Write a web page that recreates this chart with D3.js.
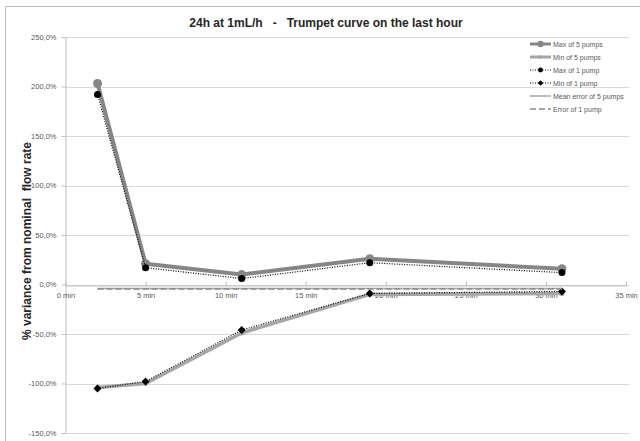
<!DOCTYPE html>
<html lang="en">
    <head>
        <meta charset="utf-8" />
        <title>Trumpet curve</title>
        <script type="text/javascript" src="https://cdnjs.cloudflare.com/ajax/libs/d3/7.8.5/d3.min.js"></script>
        <style type="text/css">
            body { margin: 0; background: white; }
            text { font-family: "Liberation Sans", Arial, sans-serif; }
        </style>
    </head>
    <body>
        <script type="text/javascript">
            var minutes = [2, 5, 11, 19, 31];
            var max5 = [203, 21, 10, 26, 16];
            var min5 = [-104, -100, -49, -10, -9];
            var max1 = [192, 17, 6, 22, 12];
            var min1 = [-105, -98, -46, -9, -7];
            var meanErr5 = [-4, -4, -4, -4, -4];
            var err1 = [-4.5, -4.5, -4.5, -4.5, -4.5];

            var xTicks = [0, 5, 10, 15, 20, 25, 30, 35];
            var yTicks = [250, 200, 150, 100, 50, 0, -50, -100, -150];

            var w = 640;
            var h = 441;

            var xScale = d3.scaleLinear().domain([0, 35]).range([65.5, 626]);
            var yScale = d3.scaleLinear().domain([-150, 250]).range([433, 37]);

            var svg = d3.select("body").append("svg")
                .attr("width", w)
                .attr("height", h);

            // chart border
            svg.append("rect")
                .attr("x", 5.5).attr("y", 6.5)
                .attr("width", 700).attr("height", 500)
                .attr("fill", "white")
                .attr("stroke", "#bcbcbc");

            // gridlines
            svg.append("g")
                .selectAll("line")
                .data(yTicks)
                .enter()
                .append("line")
                .attr("x1", xScale(0))
                .attr("x2", 629)
                .attr("y1", function(d) { return Math.round(yScale(d)) + 0.5; })
                .attr("y2", function(d) { return Math.round(yScale(d)) + 0.5; })
                .attr("stroke", "#d9d9d9")
                .attr("stroke-width", 1);

            // y axis
            var yAxis = d3.axisLeft(yScale)
                .tickValues(yTicks)
                .tickSize(4)
                .tickPadding(5)
                .tickFormat(function(d) { return d.toFixed(1).replace(".", ",") + "%"; });
            var gy = svg.append("g")
                .attr("transform", "translate(" + (Math.round(xScale(0)) - 0.5) + ",0)")
                .call(yAxis);
            gy.select(".domain").attr("stroke", "#bfbfbf");
            gy.selectAll(".tick line").attr("stroke", "#bfbfbf");
            gy.selectAll("text")
                .attr("fill", "#595959")
                .attr("font-size", "7.5px")
                .attr("font-family", "Liberation Sans, Arial, sans-serif");

            // x axis at 0%
            var xAxis = d3.axisBottom(xScale)
                .tickValues(xTicks)
                .tickSizeInner(-4)
                .tickSizeOuter(0)
                .tickPadding(7)
                .tickFormat(function(d) { return d + " min"; });
            var gx = svg.append("g")
                .attr("transform", "translate(0," + (Math.round(yScale(0)) + 0.5) + ")")
                .call(xAxis);
            gx.select(".domain").attr("stroke", "#bfbfbf");
            gx.selectAll(".tick line").attr("stroke", "#bfbfbf");
            gx.selectAll("text")
                .attr("fill", "#595959")
                .attr("font-size", "7.5px")
                .attr("font-family", "Liberation Sans, Arial, sans-serif");

            var line = d3.line()
                .x(function(d) { return xScale(d[0]); })
                .y(function(d) { return yScale(d[1]); });

            function pairs(vals) {
                return minutes.map(function(m, i) { return [m, vals[i]]; });
            }

            var series = [
                { name: "Max of 5 pumps", values: max5, color: "#868686", width: 4, dash: null, marker: "circle", size: 4.5, mcolor: "#868686" },
                { name: "Min of 5 pumps", values: min5, color: "#a6a6a6", width: 3.5, dash: null, marker: "circle", size: 2.5, mcolor: "#a6a6a6" },
                { name: "Max of 1 pump", values: max1, color: "#000000", width: 1.2, dash: "1,1.5", marker: "circle", size: 3.5, mcolor: "#000000" },
                { name: "Min of 1 pump", values: min1, color: "#000000", width: 1.2, dash: "1,1.5", marker: "diamond", size: 4, mcolor: "#000000" },
                { name: "Mean error of 5 pumps", values: meanErr5, color: "#a6a6a6", width: 1.5, dash: null, marker: null },
                { name: "Error of 1 pump", values: err1, color: "#8c8c8c", width: 1.6, dash: "6,3", marker: null }
            ];

            function drawMarker(g, s, x, y, scale) {
                var r = s.size * (scale || 1);
                if (s.marker === "circle") {
                    g.append("circle")
                        .attr("cx", x).attr("cy", y).attr("r", r)
                        .attr("fill", s.mcolor);
                } else if (s.marker === "diamond") {
                    g.append("path")
                        .attr("d", "M" + x + "," + (y - r) + "L" + (x + r) + "," + y + "L" + x + "," + (y + r) + "L" + (x - r) + "," + y + "Z")
                        .attr("fill", s.mcolor);
                }
            }

            var plot = svg.append("g");
            series.forEach(function(s) {
                var g = plot.append("g");
                g.append("path")
                    .datum(pairs(s.values))
                    .attr("d", line)
                    .attr("fill", "none")
                    .attr("stroke", s.color)
                    .attr("stroke-width", s.width)
                    .attr("stroke-dasharray", s.dash)
                    .attr("stroke-linejoin", "round");
                if (s.marker) {
                    pairs(s.values).forEach(function(p) {
                        drawMarker(g, s, xScale(p[0]), yScale(p[1]));
                    });
                }
            });

            // legend
            var legend = svg.append("g");
            series.forEach(function(s, i) {
                var y = 44 + i * 13;
                var g = legend.append("g");
                g.append("line")
                    .attr("x1", 530).attr("x2", 551)
                    .attr("y1", y).attr("y2", y)
                    .attr("stroke", s.color)
                    .attr("stroke-width", Math.min(s.width, 3))
                    .attr("stroke-dasharray", s.dash);
                if (s.marker) {
                    drawMarker(g, s, 540.5, y, 0.7);
                }
                g.append("text")
                    .attr("x", 553)
                    .attr("y", y + 2.5)
                    .attr("font-size", "7px")
                    .attr("fill", "#595959")
                    .text(s.name);
            });

            // title
            svg.append("text")
                .attr("x", 326)
                .attr("y", 27)
                .attr("text-anchor", "middle")
                .attr("font-size", "12px")
                .attr("font-weight", "bold")
                .attr("fill", "#262626")
                .style("white-space", "pre")
                .text("24h at 1mL/h   -   Trumpet curve on the last hour");

            // y axis title
            svg.append("text")
                .attr("transform", "translate(31,241) rotate(-90)")
                .attr("text-anchor", "middle")
                .attr("font-size", "12px")
                .attr("font-weight", "bold")
                .attr("fill", "#262626")
                .style("white-space", "pre")
                .text("% variance from nominal  flow rate");
        </script>
    </body>
</html>
